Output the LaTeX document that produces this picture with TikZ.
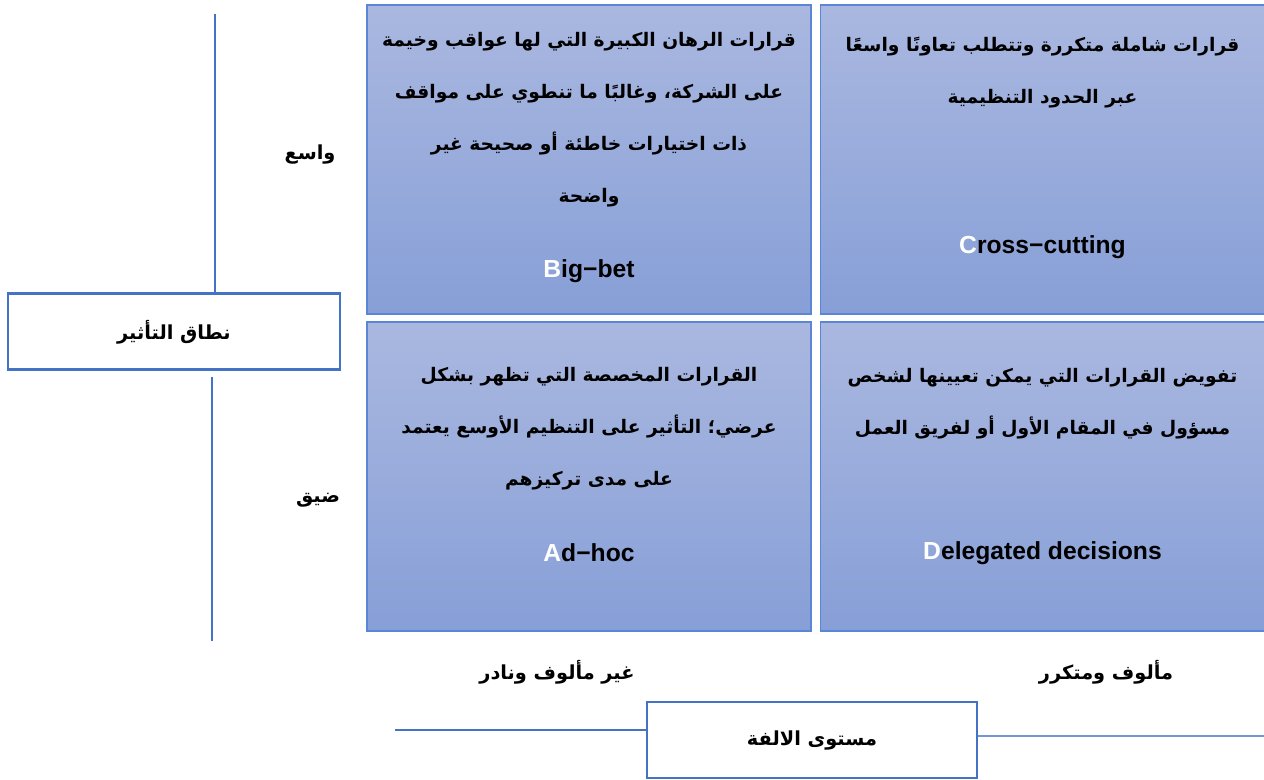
\documentclass[tikz,border=0pt]{standalone}
\usepackage{fontspec}
\setmainfont{Liberation Sans}
\newfontfamily\arabicfont[Script=Arabic]{DejaVu Sans}
\TeXXeTstate=1
\usetikzlibrary{calc}
\definecolor{quadtop}{RGB}{170,184,224}
\definecolor{quadbot}{RGB}{135,159,215}
\definecolor{quadedge}{RGB}{91,134,214}
\definecolor{axisblue}{RGB}{68,114,196}
\newcommand{\ar}[1]{\beginR #1\endR}
\tikzset{
  quad/.style={draw=quadedge, line width=1.2pt, top color=quadtop, bottom color=quadbot,
    minimum width=333pt, minimum height=232pt, inner sep=0pt},
  axisbox/.style={draw=axisblue, line width=2.2pt, fill=white, inner sep=0pt},
  axisline/.style={draw=axisblue, line width=0.9pt},
  artext/.style={font=\arabicfont\bfseries\fontsize{14}{39}\selectfont, align=center, text=black},
  lattext/.style={font=\bfseries\fontsize{18.5}{22}\selectfont, text=black},
  lbl/.style={font=\arabicfont\bfseries\fontsize{14.5}{20}\selectfont, text=black}
}
\begin{document}
\begin{tikzpicture}[x=0.75pt, y=-0.75pt]
\useasboundingbox (0,0) rectangle (1264,780);

% four quadrants
\node[quad] (bigbet) at (589,159.5) {};
\node[quad] (cross)  at (1042.5,159.5) {};
\node[quad] (adhoc)  at (589,476.5) {};
\node[quad] (deleg)  at (1042.5,476.5) {};

% quadrant descriptions
\node[artext] (tbb) at (589,120) {\ar{قرارات الرهان الكبيرة التي لها عواقب وخيمة}\\
  \ar{على الشركة، وغالبًا ما تنطوي على مواقف}\\
  \ar{ذات اختيارات خاطئة أو صحيحة غير}\\
  \ar{واضحة}};
\node[lattext] (nbb) at (589,271) {\textcolor{white}{B}ig−bet};

\node[artext] (tcr) at (1042.5,73) {\ar{قرارات شاملة متكررة وتتطلب تعاونًا واسعًا}\\
  \ar{عبر الحدود التنظيمية}};
\node[lattext] (ncr) at (1042.5,247) {\textcolor{white}{C}ross−cutting};

\node[artext] (tah) at (589,429) {\ar{القرارات المخصصة التي تظهر بشكل}\\
  \ar{عرضي؛ التأثير على التنظيم الأوسع يعتمد}\\
  \ar{على مدى تركيزهم}};
\node[lattext] (nah) at (589,553) {\textcolor{white}{A}d−hoc};

\node[artext] (tdl) at (1042.5,403.5) {\ar{تفويض القرارات التي يمكن تعيينها لشخص}\\
  \ar{مسؤول في المقام الأول أو لفريق العمل}};
\node[lattext] (ndl) at (1042.5,553) {\textcolor{white}{D}elegated decisions};

% vertical axis: scope of impact
\node[axisbox, minimum width=249pt, minimum height=57pt] (scope) at (174,331.5) {};
\node[lbl] (scopet) at (174,332) {\ar{نطاق التأثير}};
\coordinate (vtop) at (215,14);
\coordinate (vbot) at (212,641);
\draw[axisline] (vtop) -- (vtop |- scope.north);
\draw[axisline] (vbot |- scope.south) ++(0,6) -- (vbot);
\node[lbl] (wide) at (310,155) {\ar{واسع}};
\node[lbl] (narrow) at (318,500) {\ar{ضيق}};

% horizontal axis: level of familiarity
\node[axisbox, minimum width=247.5pt, minimum height=57pt] (fam) at (812,740) {};
\node[lbl] (famt) at (812,741) {\ar{مستوى الالفة}};
\coordinate (hleft) at (395,730);
\coordinate (hright) at (1264,736);
\draw[axisline] (hleft) -- (hleft -| fam.west);
\draw[axisline, draw=axisblue!75] (fam.east |- hright) -- (hright);
\node[lbl] (rare) at (557,672) {\ar{غير مألوف ونادر}};
\node[lbl] (usual) at (1106,672) {\ar{مألوف ومتكرر}};
\end{tikzpicture}
\end{document}
